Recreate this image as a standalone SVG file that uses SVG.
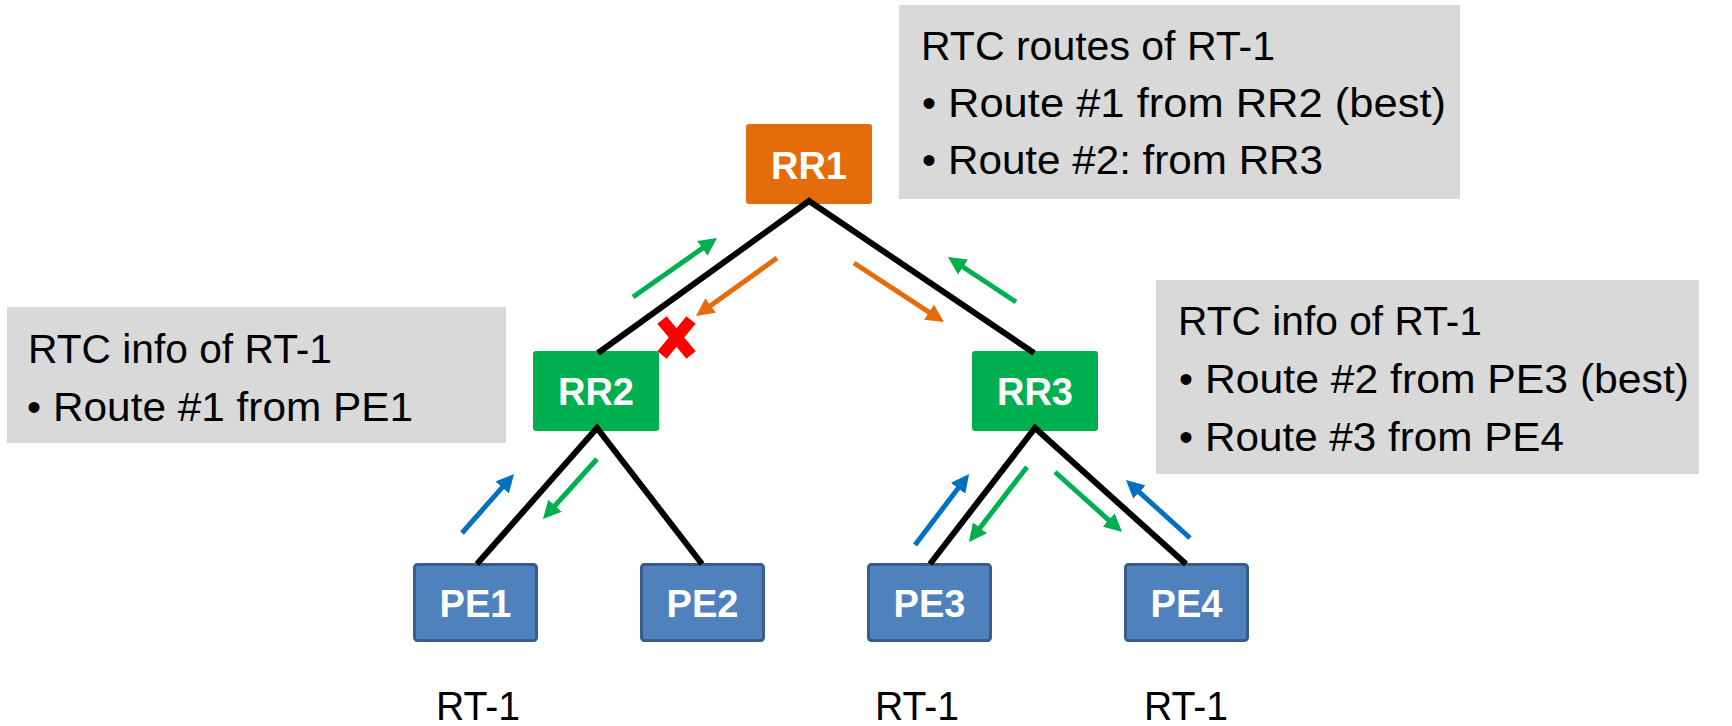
<svg xmlns="http://www.w3.org/2000/svg" width="1732" height="726" viewBox="0 0 1732 726">
<style>
.box{fill:#D9D9D9}
.txt{font-family:"Liberation Sans",Arial,sans-serif;font-size:40px;fill:#000}
.lbl{font-family:"Liberation Sans",Arial,sans-serif;font-size:38px;font-weight:bold;fill:#fff;text-anchor:middle}
.rr1{fill:#E46C0A}
.rr{fill:#00B050}
.pe{fill:#4F81BD;stroke:#385D8A;stroke-width:3}
.link{fill:none;stroke:#000;stroke-width:6;stroke-linejoin:miter}
.ag{stroke:#00B050;stroke-width:5;fill:none;marker-end:url(#hg)}
.ao{stroke:#E46C0A;stroke-width:5;fill:none;marker-end:url(#ho)}
.ab{stroke:#0070C0;stroke-width:5;fill:none;marker-end:url(#hb)}
</style>
<defs>
<marker id="hg" viewBox="0 0 10 10" refX="4" refY="5" markerUnits="userSpaceOnUse" markerWidth="18" markerHeight="18" orient="auto"><path d="M0,0 L10,5 L0,10 z" fill="#00B050"/></marker>
<marker id="ho" viewBox="0 0 10 10" refX="4" refY="5" markerUnits="userSpaceOnUse" markerWidth="18" markerHeight="18" orient="auto"><path d="M0,0 L10,5 L0,10 z" fill="#E46C0A"/></marker>
<marker id="hb" viewBox="0 0 10 10" refX="4" refY="5" markerUnits="userSpaceOnUse" markerWidth="18" markerHeight="18" orient="auto"><path d="M0,0 L10,5 L0,10 z" fill="#0070C0"/></marker>
</defs>
<rect width="1732" height="726" fill="#fff"/>

<g id="note-rr1">
<rect class="box" x="899" y="5" width="561" height="194"/>
<text class="txt" x="921" y="60" textLength="354" lengthAdjust="spacingAndGlyphs">RTC routes of RT-1</text>
<text class="txt" x="922" y="117">•</text>
<text class="txt" x="948" y="117" textLength="498" lengthAdjust="spacingAndGlyphs">Route #1 from RR2 (best)</text>
<text class="txt" x="922" y="174">•</text>
<text class="txt" x="948" y="174" textLength="375" lengthAdjust="spacingAndGlyphs">Route #2: from RR3</text>
</g>

<g id="note-rr2">
<rect class="box" x="7" y="307" width="499" height="136"/>
<text class="txt" x="28" y="363" textLength="304" lengthAdjust="spacingAndGlyphs">RTC info of RT-1</text>
<text class="txt" x="27" y="421">•</text>
<text class="txt" x="53" y="421" textLength="360" lengthAdjust="spacingAndGlyphs">Route #1 from PE1</text>
</g>

<g id="note-rr3">
<rect class="box" x="1156" y="280" width="543" height="194"/>
<text class="txt" x="1178" y="335" textLength="304" lengthAdjust="spacingAndGlyphs">RTC info of RT-1</text>
<text class="txt" x="1179" y="393">•</text>
<text class="txt" x="1205" y="393" textLength="484" lengthAdjust="spacingAndGlyphs">Route #2 from PE3 (best)</text>
<text class="txt" x="1179" y="451">•</text>
<text class="txt" x="1205" y="451" textLength="359" lengthAdjust="spacingAndGlyphs">Route #3 from PE4</text>
</g>

<g id="RR1">
<rect class="rr1" x="746" y="124" width="126" height="80" rx="3"/>
<text class="lbl" x="809" y="179">RR1</text>
</g>
<g id="RR2">
<rect class="rr" x="533" y="351" width="126" height="80" rx="3"/>
<text class="lbl" x="596" y="405">RR2</text>
</g>
<g id="RR3">
<rect class="rr" x="972" y="351" width="126" height="80" rx="3"/>
<text class="lbl" x="1035" y="405">RR3</text>
</g>
<g id="PE1">
<rect class="pe" x="414.5" y="564.5" width="122" height="76" rx="3"/>
<text class="lbl" x="475.5" y="617">PE1</text>
</g>
<g id="PE2">
<rect class="pe" x="641.5" y="564.5" width="122" height="76" rx="3"/>
<text class="lbl" x="702.5" y="617">PE2</text>
</g>
<g id="PE3">
<rect class="pe" x="868.5" y="564.5" width="122" height="76" rx="3"/>
<text class="lbl" x="929.5" y="617">PE3</text>
</g>
<g id="PE4">
<rect class="pe" x="1125.5" y="564.5" width="122" height="76" rx="3"/>
<text class="lbl" x="1186.5" y="617">PE4</text>
</g>

<g id="rt-labels">
<text class="txt" x="478" y="720" text-anchor="middle" textLength="84" lengthAdjust="spacingAndGlyphs">RT-1</text>
<text class="txt" x="917" y="720" text-anchor="middle" textLength="84" lengthAdjust="spacingAndGlyphs">RT-1</text>
<text class="txt" x="1186" y="720" text-anchor="middle" textLength="84" lengthAdjust="spacingAndGlyphs">RT-1</text>
</g>

<g id="connectors">
<polyline class="link" points="598,353 809,201 1034,353"/>
<polyline class="link" points="477,564 597,428 702,564"/>
<polyline class="link" points="930,564 1035,428 1186,564"/>

<line class="ag" x1="633" y1="297" x2="708.2" y2="244.2"/>
<line class="ao" x1="777" y1="258" x2="704.8" y2="309.7"/>
<line class="ao" x1="854" y1="263" x2="935.0" y2="316.1"/>
<line class="ag" x1="1016" y1="302" x2="957.0" y2="263.0"/>
<line class="ab" x1="462" y1="533" x2="506.9" y2="482.1"/>
<line class="ag" x1="597" y1="459" x2="550.2" y2="511.0"/>
<line class="ab" x1="915" y1="545" x2="962.5" y2="482.6"/>
<line class="ag" x1="1027" y1="467" x2="975.6" y2="533.5"/>
<line class="ag" x1="1055" y1="472" x2="1114.0" y2="524.8"/>
<line class="ab" x1="1190" y1="538" x2="1134.0" y2="487.3"/>

<path id="blocked" d="M662,320 L691,355 M691,320 L662,355" stroke="#FF0000" stroke-width="12" fill="none"/>
</g>
</svg>
